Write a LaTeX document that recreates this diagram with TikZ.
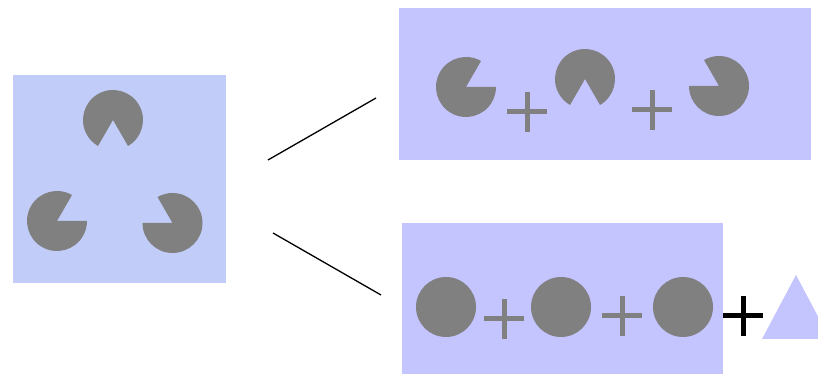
\documentclass[tikz,border=0pt]{standalone}
\usetikzlibrary{calc}
\definecolor{leftbg}{RGB}{193,205,248}
\definecolor{rightbg}{RGB}{196,196,255}
\definecolor{shade}{RGB}{128,128,128}
\tikzset{
  panel/.style={fill=#1, draw=none},
  disc/.style={fill=shade},
  plusbar/.style={line width=5pt, draw=#1},
  link/.style={line width=1.3pt, black}
}
% pacman: centre, start angle of the body, end angle of the body
\newcommand{\pacman}[3]{%
  \fill[disc] (#1) -- ++(#2:30) arc[start angle=#2, end angle=#3, radius=30] -- cycle;}
% plus sign of half-size 20 at a point
\newcommand{\plussign}[2]{%
  \draw[plusbar=#2] ($(#1)+(-20,0)$) -- ($(#1)+(20,0)$);
  \draw[plusbar=#2] ($(#1)+(0,-20)$) -- ($(#1)+(0,20)$);}
\begin{document}
\begin{tikzpicture}[x=1pt,y=1pt]
\useasboundingbox (0,0) rectangle (818,374);
\clip (0,0) rectangle (818,374);

% left panel: the illusory triangle
\fill[panel=leftbg] (13,91) rectangle (226,299);
\coordinate (ka) at (113,254);
\coordinate (kb) at (57,153);
\coordinate (kc) at (172.5,151);
\pacman{ka}{-60}{240}
\pacman{kb}{60}{360}
\pacman{kc}{180}{480}

% connectors
\coordinate (l1a) at (268,214);
\coordinate (l1b) at (376,276);
\coordinate (l2a) at (273,141);
\coordinate (l2b) at (381,79);
\draw[link] (l1a) -- (l1b);
\draw[link] (l2a) -- (l2b);

% upper right panel: three pacmen
\fill[panel=rightbg] (399,214) rectangle (811,366);
\coordinate (pa) at (466,287);
\coordinate (pb) at (585,295);
\coordinate (pc) at (719,288);
\pacman{pa}{60}{360}
\pacman{pb}{-60}{240}
\pacman{pc}{180}{480}
\coordinate (s1) at (527,262);
\coordinate (s2) at (652,264);
\plussign{s1}{shade}
\plussign{s2}{shade}

% lower right panel: three discs plus a triangle
\fill[panel=rightbg] (402,0) rectangle (723,151);
\coordinate (da) at (446,67);
\coordinate (db) at (561,67);
\coordinate (dc) at (683,67);
\fill[disc] (da) circle[radius=30];
\fill[disc] (db) circle[radius=30];
\fill[disc] (dc) circle[radius=30];
\coordinate (s3) at (504,55);
\coordinate (s4) at (622,58);
\coordinate (s5) at (743,58);
\plussign{s3}{shade}
\plussign{s4}{shade}
\plussign{s5}{black}
\fill[rightbg] (762,35) -- (796,99) -- (830,35) -- cycle;
\end{tikzpicture}
\end{document}
